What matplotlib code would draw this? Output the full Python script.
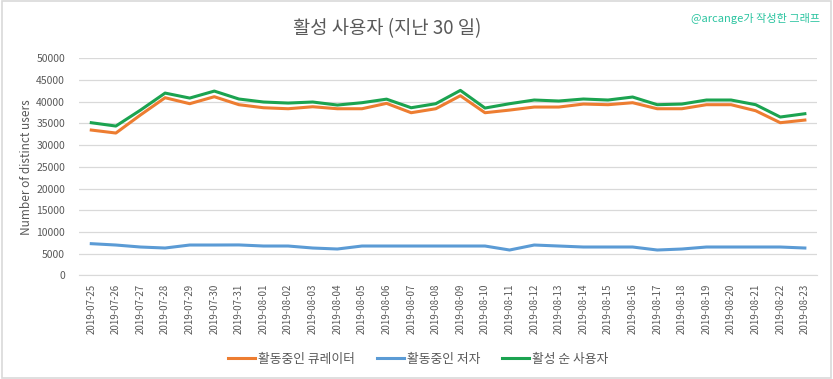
import matplotlib
matplotlib.use("Agg")
import matplotlib.pyplot as plt
from matplotlib.patches import Rectangle

dates = ["2019-07-%02d" % d for d in range(25, 32)] + ["2019-08-%02d" % d for d in range(1, 24)]

curators = [33480, 32790, 36960, 40930, 39550, 41160, 39320, 38620, 38390, 38850,
            38390, 38390, 39630, 37470, 38390, 41390, 37470, 38080, 38780, 38780,
            39470, 39320, 39780, 38390, 38390, 39320, 39320, 37930, 35170, 35780]
authors = [7290, 6980, 6520, 6290, 6980, 6980, 7000, 6750, 6750, 6290,
           6060, 6750, 6750, 6750, 6750, 6750, 6750, 5830, 6980, 6750,
           6520, 6520, 6520, 5830, 6060, 6520, 6520, 6520, 6520, 6290]
unique = [35170, 34400, 38070, 42000, 40850, 42460, 40630, 39940, 39700, 39940,
          39240, 39780, 40600, 38620, 39550, 42620, 38550, 39550, 40400, 40170,
          40630, 40400, 41090, 39320, 39470, 40400, 40400, 39320, 36480, 37240]

series_names = ["활동중인 큐레이터", "활동중인 저자", "활성 순 사용자"]
title = "활성 사용자 (지난 30 일)"
credit = "@arcange가 작성한 그래프"
ylabel = "Number of distinct users"

plt.rcParams['font.family'] = ['Noto Sans CJK KR', 'DejaVu Sans']

fig = plt.figure(figsize=(8.33, 3.79), dpi=100)
fig.patches.append(Rectangle((0.002, 0.003), 0.996, 0.994, transform=fig.transFigure,
                             fill=False, edgecolor="#d9d9d9", linewidth=1.2))
ax = fig.add_axes([0.0948, 0.2736, 0.8862, 0.5724])

x = list(range(len(dates)))
ax.plot(x, curators, color="#ED7D31", lw=2.2, label=series_names[0])
ax.plot(x, authors, color="#5B9BD5", lw=2.2, label=series_names[1])
ax.plot(x, unique, color="#1BA350", lw=2.2, label=series_names[2])

ax.set_xlim(-0.5, len(dates) - 0.5)
ax.set_ylim(0, 50000)
ax.set_yticks(range(0, 50001, 5000))
ax.set_xticks(x)
ax.set_xticklabels(dates, rotation=90, fontsize=7, color="#595959")
ax.tick_params(axis='y', labelsize=7.5, colors="#595959", length=0, pad=10)
ax.tick_params(axis='x', length=0, pad=6)
ax.grid(axis='y', color="#d9d9d9", lw=0.9)
ax.set_axisbelow(True)
for s in ["top", "right", "left"]:
    ax.spines[s].set_visible(False)
ax.spines["bottom"].set_color("#d9d9d9")
ax.set_ylabel(ylabel, fontsize=8.5, color="#595959", labelpad=2)

fig.text(0.465, 0.925, title, ha="center", va="center", fontsize=13.5, color="#595959")
fig.text(0.985, 0.952, credit, ha="right", va="center", fontsize=8, color="#2BC4A0")

fig.legend(loc="center", bbox_to_anchor=(0.502, 0.052), ncol=3, frameon=False,
           fontsize=9.2, labelcolor="#595959", handlelength=2.1, columnspacing=1.7,
           handletextpad=0.25)

fig.savefig("out.png", dpi=100)
